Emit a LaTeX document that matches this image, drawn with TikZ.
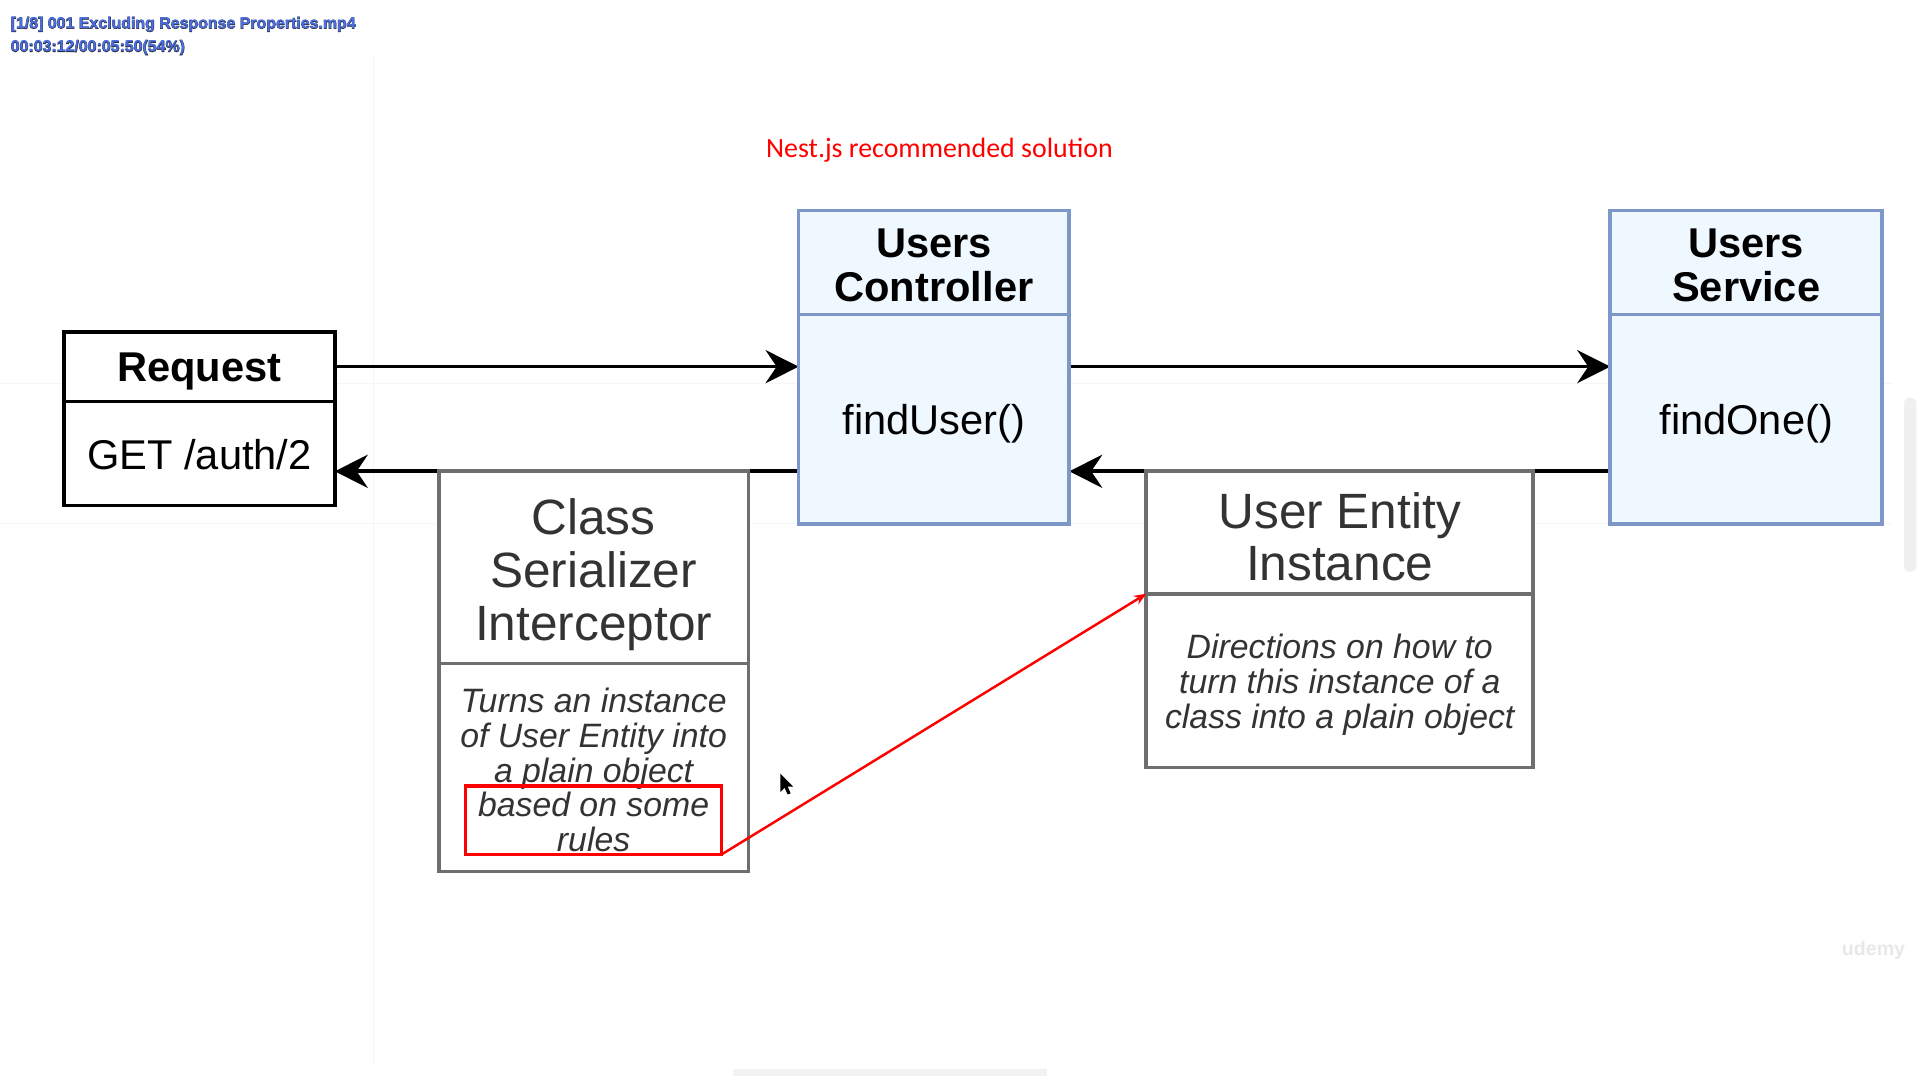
\documentclass[tikz,border=0pt]{standalone}
\usepackage{fontspec}
\setmainfont{Liberation Sans}
\newfontfamily\titlefont{Carlito}
\newfontfamily\hudedge[FakeBold=3.5]{Liberation Sans Bold}
\newfontfamily\hudface{Liberation Sans Bold}
\usetikzlibrary{arrows.meta,backgrounds}

\definecolor{umlblue}{HTML}{7D98C8}
\definecolor{umlfill}{HTML}{EFF8FF}
\definecolor{boxgray}{HTML}{6E6E6E}
\definecolor{textgray}{HTML}{333333}
\definecolor{hudblue}{HTML}{4C70E0}
\definecolor{hudedgec}{HTML}{2A2F4A}

\begin{document}
\begin{tikzpicture}[x=0.5pt,y=-0.5pt,
  box/.style={draw, line width=1.5pt, rectangle, inner sep=0pt, outer sep=0pt, anchor=north west},
  reqbox/.style={box, draw=black, fill=white},
  bluebox/.style={box, draw=umlblue, fill=umlfill},
  graybox/.style={box, draw=boxgray, fill=white},
  label text/.style={inner sep=0pt, align=center},
  headbold/.style={label text, font=\fontsize{17}{18}\selectfont\bfseries},
  method/.style={label text, font=\fontsize{17}{18}\selectfont},
  headgray/.style={label text, text=textgray, font=\fontsize{20.25}{21.5}\selectfont},
  note/.style={label text, text=textgray, font=\fontsize{13.8}{14.25}\selectfont\itshape},
  flow/.style={line width=1.5pt, -{Stealth[length=13.5pt,width=13.5pt,inset=4.5pt]}},
  hudedgestyle/.style={anchor=west, inner sep=0pt, text=hudedgec, font=\hudedge\fontsize{6.5}{7}\selectfont},
  hudstyle/.style={anchor=west, inner sep=0pt, text=hudblue, font=\hudface\fontsize{6.5}{7}\selectfont},
]

% page and faint guide lines
\begin{scope}[on background layer]
  \fill[white] (0,0) rectangle (1568,882);
  \draw[gray!9, line width=0.4pt] (305,45) -- (305,870);
  \draw[gray!7, line width=0.4pt] (0,313) -- (1545,313);
  \draw[gray!7, line width=0.4pt] (0,428) -- (1545,428);
  \fill[gray!12, rounded corners=2pt] (1555,325) rectangle (1565,467);
  \fill[gray!10] (598,873) rectangle (855,879);
\end{scope}

% player overlay: dark rim underneath, blue face on top
\node[hudedgestyle] (hud1rim) at (8,20) {[1/8] 001 Excluding Response Properties.mp4};
\node[hudedgestyle] (hud2rim) at (8,39) {00:03:12/00:05:50(54\%)};
\node[hudstyle] (hud1) at (8,20) {[1/8] 001 Excluding Response Properties.mp4};
\node[hudstyle] (hud2) at (8,39) {00:03:12/00:05:50(54\%)};

% title
\node[text=red, font=\titlefont\fontsize{11.4}{13}\selectfont] (title) at (767,123) {Nest.js recommended solution};

% request
\node[reqbox, minimum width=110.5pt, minimum height=28.5pt] (reqH) at (52,271) {};
\node[reqbox, minimum width=110.5pt, minimum height=42.5pt] (reqB) at (reqH.south west) {};
\node[headbold] (reqHt) at ([yshift=-2pt]reqH.center) {Request};
\node[method] (reqBt) at ([yshift=-0.5pt]reqB.center) {GET /auth/2};

% users controller
\node[bluebox, minimum width=110.5pt, minimum height=42.5pt] (ctrlH) at (652,172) {};
\node[bluebox, minimum width=110.5pt, minimum height=85.5pt] (ctrlB) at (ctrlH.south west) {};
\node[headbold] (ctrlHt) at ([yshift=-1.25pt]ctrlH.center) {Users\\Controller};
\node[method] (ctrlBt) at ([yshift=-1.75pt]ctrlB.center) {findUser()};

% users service
\node[bluebox, minimum width=111pt, minimum height=42.5pt] (servH) at (1315,172) {};
\node[bluebox, minimum width=111pt, minimum height=85.5pt] (servB) at (servH.south west) {};
\node[headbold] (servHt) at ([yshift=-1.25pt]servH.center) {Users\\Service};
\node[method] (servBt) at ([yshift=-1.75pt]servB.center) {findOne()};

% class serializer interceptor
\node[graybox, minimum width=126.5pt, minimum height=78.5pt] (serH) at (358,385) {};
\node[graybox, minimum width=126.5pt, minimum height=85pt] (serB) at (serH.south west) {};
\node[headgray] (serHt) at ([yshift=-3pt]serH.center) {Class\\Serializer\\Interceptor};
\node[note] (serBt) at ([yshift=-1pt]serB.center)
  {Turns an instance\\of User Entity into\\a plain object\\based on some\\rules};

% user entity instance
\node[graybox, minimum width=158pt, minimum height=50pt] (entH) at (936,385) {};
\node[graybox, minimum width=158pt, minimum height=71pt] (entB) at (entH.south west) {};
\node[headgray] (entHt) at ([yshift=-1.75pt]entH.center) {User Entity\\Instance};
\node[note] (entBt) at ([yshift=-1.75pt]entB.center)
  {Directions on how to\\turn this instance of a\\class into a plain object};

% highlight and its pointer
\node[draw=red, line width=1.3pt, minimum width=104.5pt, minimum height=28pt, anchor=north west, inner sep=0pt, outer sep=0pt] (rules) at (380,642) {};
\draw[red, line width=1pt, -{Stealth[length=5pt,width=4pt]}] (rules.south east) -- (entB.north west);

% request / response flow
\begin{scope}[on background layer]
  \draw[flow] (reqH.east) -- (reqH.east -| ctrlB.west);
  \draw[flow] (reqH.east -| ctrlB.east) -- (reqH.east -| servB.west);
  \draw[flow] (serH.north -| servB.west) -- (serH.north -| ctrlB.east);
  \draw[flow] (serH.north -| ctrlB.west) -- (serH.north -| reqB.east);
\end{scope}

% mouse pointer
\fill[black] (637,632) -- (637,647) -- (640.5,643.5) -- (643,649) -- (645.5,648) -- (643,642.5) -- (647.5,642.5) -- cycle;

% watermark
\node[text=gray!18, font=\fontsize{8}{9}\selectfont\bfseries] (mark) at (1530,776) {udemy};
\end{tikzpicture}
\end{document}
